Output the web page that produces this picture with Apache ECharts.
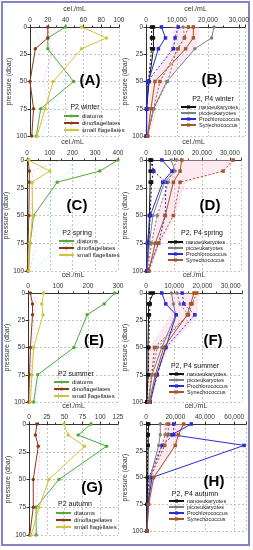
<!DOCTYPE html>
<html><head><meta charset="utf-8">
<script src="https://cdn.jsdelivr.net/npm/echarts@6/dist/echarts.min.js"></script>
<style>html,body{margin:0;padding:0;background:#fff}#c{width:253px;height:550px}</style>
</head><body><div id="c"></div>
<script>
const depths = [0, 10, 20, 50, 75, 100];
const yTicks = [0, 25, 50, 75, 100];

// Panel A (P2 winter)
const A_diatoms = [40, 20, 20, 49, 12, 7];
const A_dino = [20, 20, 6, 0, 4, 2];
const A_small = [58, 86, 58, 26, 17, 8];
const A_faintCyan = [30, 24, 22, 40, 26, 12];
const A_faintPink = [4, 10, 26, 15, 22, 6];
// Panel C (P2 spring)
const C_diatoms = [400, 320, 133, 29, 14, 7];
const C_dino = [5, 10, 10, 8, 5, 3];
const C_small = [7, 100, 22, 25, 12, 7];
const C_faintCyan = [200, 190, 120, 90, 170, 20];
const C_faintPink = [150, 20, 30, 15, 40, 10];
// Panel E (P2 summer)
const E_diatoms = [289, 254, 197, 153, 32, 19];
const E_dino = [8, 15, 15, 8, 5, 2];
const E_small = [52, 46, 50, 19, 13, 8];
const E_faintCyan = [280, 250, 200, 165, 40, 22];
const E_faintPink = [20, 25, 20, 15, 10, 5];
// Panel G (P2 autumn)
const G_diatoms = [87, 69, 109, 42, 10, 10];
const G_dino = [11, 9, 13, 6, 6, 1];
const G_small = [49, 55, 78, 28, 14, 3];
const G_faintCyan = [90, 75, 112, 48, 14, 12];
const G_faintPink = [16, 14, 16, 12, 10, 6];

// Panel B (P2, P4 winter)
const B_nano = [2400, 2400, 2400, 1000, 200, 200];
const B_nano4 = [1800, 1800, 1800, 800, 200, 100];
const B_pico = [22000, 21200, 15800, 6700, 2400, 500];
const B_pico4 = [12000, 12500, 10000, 7000, 2500, 500];
const B_pro = [5000, 6300, 4000, 750, 200, 200];
const B_pro4 = [10400, 9400, 8800, 500, 200, 100];
const B_syn = [15300, 15300, 12800, 2900, 1600, 500];
const B_syn4 = [13700, 12400, 10400, 4500, 2400, 500];
const B_bandLo = [9000, 9000, 8000, 2000, 800, 200];
const B_bandHi = [17000, 17000, 15500, 6000, 3500, 900];
// Panel D (P2, P4 spring)
const D_nano = [1500, 1500, 1500, 1200, 1000, 300];
const D_nano4 = [2000, 2700, 2000, 1500, 1000, 300];
const D_pico = [9000, 10400, 6600, 2500, 1200, 300];
const D_pico4 = [11000, 9500, 8000, 4000, 2000, 500];
const D_pro = [5700, 9300, 6000, 1500, 500, 200];
const D_pro4 = [1500, 2700, 7100, 6900, 4500, 500];
const D_syn = [12800, 12200, 9800, 6900, 3300, 1000];
const D_syn4 = [31200, 27600, 12200, 9800, 4500, 1000];
const D_bandLo = [10000, 10000, 8000, 4000, 1500, 300];
const D_bandHi = [32000, 28000, 14000, 10500, 5000, 1200];
// Panel F (P2, P4 summer)
const F_nano = [2600, 900, 900, 700, 700, 300];
const F_nano4 = [1500, 1500, 1200, 1000, 800, 300];
const F_pico = [9000, 9700, 10500, 5600, 2100, 900];
const F_pico4 = [11000, 12000, 15000, 4000, 2000, 800];
const F_pro = [5600, 7000, 10700, 7000, 3800, 1500];
const F_pro4 = [12800, 13400, 17300, 7000, 4000, 1500];
const F_syn = [17000, 15800, 14600, 6300, 3300, 1200];
const F_syn4 = [18000, 16300, 15000, 3000, 2000, 1000];
const F_bandLo = [9000, 8000, 9000, 1500, 800, 200];
const F_bandHi = [19000, 18000, 18500, 8000, 4000, 1500];
// Panel H (P2, P4 autumn)
const H_nano = [1800, 1500, 1500, 1200, 800, 500];
const H_nano4 = [1200, 1200, 1200, 1000, 800, 500];
const H_pico = [9700, 9700, 8600, 2900, 1500, 600];
const H_pico4 = [14000, 13000, 11000, 3000, 1500, 600];
const H_pro = [30800, 17600, 66700, 4100, 1400, 700];
const H_pro4 = [18800, 18800, 10900, 2000, 1000, 500];
const H_syn = [25600, 22000, 19900, 5200, 1800, 700];
const H_syn4 = [15400, 15000, 12700, 3000, 1200, 500];
const H_bandLo = [12000, 12000, 10000, 2000, 800, 200];
const H_bandHi = [27000, 24000, 21000, 6000, 2500, 900];

const leftNames = ['diatoms', 'dinoflagellates', 'small flagellates'];
const rightNames = ['nanoeukaryotes', 'picoeukaryotes', 'Prochlorococcus', 'Synechococcus'];

const COL = {
  diatoms: '#5aa83c', dinoflagellates: '#8a3a17', 'small flagellates': '#d2c43a',
  nanoeukaryotes: '#111111', picoeukaryotes: '#7f7f7f', Prochlorococcus: '#2a2ad6', Synechococcus: '#a4582a'
};
const SYM = {
  diatoms: 'circle', dinoflagellates: 'circle', 'small flagellates': 'circle',
  nanoeukaryotes: 'rect', picoeukaryotes: 'circle', Prochlorococcus: 'rect', Synechococcus: 'rect'
};

const panels = [
  {id: 'A', side: 'L', left: 30, top: 27, width: 89, height: 109, max: 100, interval: 20, title: 'P2 winter',
   series: [A_diatoms, A_dino, A_small], faint: [A_faintCyan, A_faintPink],
   letter: [90, 81], leg: {x: 63, y: 113, tx: 85, ty: 108}},
  {id: 'C', side: 'L', left: 27, top: 160, width: 91, height: 111, max: 400, interval: 100, title: 'P2 spring',
   series: [C_diatoms, C_dino, C_small], faint: [C_faintCyan, C_faintPink],
   letter: [77, 206], leg: {x: 58, y: 238, tx: 77, ty: 234}},
  {id: 'E', side: 'L', left: 28, top: 293, width: 90, height: 109, max: 300, interval: 100, title: 'P2 summer',
   series: [E_diatoms, E_dino, E_small], faint: [E_faintCyan, E_faintPink],
   letter: [94, 341], leg: {x: 53, y: 379, tx: 76, ty: 375}},
  {id: 'G', side: 'L', left: 29, top: 424, width: 89, height: 111, max: 125, interval: 25, title: 'P2 autumn',
   series: [G_diatoms, G_dino, G_small], faint: [G_faintCyan, G_faintPink],
   letter: [92, 488], leg: {x: 55, y: 510, tx: 75, ty: 505}},
  {id: 'B', side: 'R', left: 146, top: 27, width: 99, height: 109, max: 32000, interval: 10000, title: 'P2, P4 winter',
   series: [B_nano, B_pico, B_pro, B_syn], dashed: [B_nano4, B_pico4, B_pro4, B_syn4], band: [B_bandLo, B_bandHi],
   letter: [212, 80], leg: {x: 180, y: 104, tx: 213, ty: 100}},
  {id: 'D', side: 'R', left: 146, top: 160, width: 95, height: 111, max: 34000, interval: 10000, title: 'P2, P4 spring',
   series: [D_nano, D_pico, D_pro, D_syn], dashed: [D_nano4, D_pico4, D_pro4, D_syn4], band: [D_bandLo, D_bandHi],
   letter: [210, 206], leg: {x: 167, y: 239, tx: 202, ty: 234}},
  {id: 'F', side: 'R', left: 146, top: 293, width: 96, height: 109, max: 34000, interval: 10000, title: 'P2, P4 summer',
   series: [F_nano, F_pico, F_pro, F_syn], dashed: [F_nano4, F_pico4, F_pro4, F_syn4], band: [F_bandLo, F_bandHi],
   letter: [213, 341], leg: {x: 168, y: 371, tx: 195, ty: 367}},
  {id: 'H', side: 'R', left: 146, top: 424, width: 100, height: 107, max: 68000, interval: 20000, title: 'P2, P4 autumn',
   series: [H_nano, H_pico, H_pro, H_syn], dashed: [H_nano4, H_pico4, H_pro4, H_syn4], band: [H_bandLo, H_bandHi],
   letter: [214, 482], leg: {x: 168, y: 498, tx: 195, ty: 495}}
];

const pts = arr => arr.map((v, i) => [v, depths[i]]);
const grid = [], xAxis = [], yAxis = [], series = [], legend = [], title = [];
const FONT = 'Liberation Sans';

panels.forEach((p, k) => {
  grid.push({left: p.left, top: p.top, width: p.width, height: p.height, containLabel: false});
  xAxis.push({
    type: 'value', gridIndex: k, position: 'top', min: 0, max: p.max, interval: p.interval,
    name: 'cel./mL', nameLocation: 'middle', nameGap: 14,
    nameTextStyle: {fontSize: 7, color: '#333', fontFamily: FONT},
    axisLine: {show: true, lineStyle: {color: '#333', width: 1}},
    axisTick: {show: true, length: 2.5, lineStyle: {color: '#333'}},
    minorTick: {show: true, splitNumber: 2, length: 1.5, lineStyle: {color: '#333'}},
    axisLabel: {fontSize: 6.5, color: '#333', margin: 3, fontFamily: FONT,
      formatter: v => (v % p.interval === 0 ? v.toLocaleString('en-US') : '')},
    splitLine: {show: true, lineStyle: {color: '#b5b5b5', type: [2, 2], width: 0.8}}
  });
  yAxis.push({
    type: 'value', gridIndex: k, inverse: true, min: 0, max: 100, interval: 25,
    name: 'pressure (dbar)', nameLocation: 'middle', nameGap: p.side === 'L' ? 15 : 10,
    nameTextStyle: {fontSize: 7, color: '#333', fontFamily: FONT},
    axisLine: {show: true, onZero: false, lineStyle: {color: '#333', width: 1}},
    axisTick: {show: true, length: 2.5, lineStyle: {color: '#333'}},
    axisLabel: {fontSize: 6.5, color: '#333', margin: 3, fontFamily: FONT},
    splitLine: {show: true, lineStyle: {color: '#b5b5b5', type: [2, 2], width: 0.8}}
  });
  if (p.band) {
    const lo = p.band[0], hi = p.band[1];
    series.push({
      type: 'custom', xAxisIndex: k, yAxisIndex: k, silent: true, z: 1, data: [0],
      renderItem: (params, api) => {
        const poly = [];
        lo.forEach((v, i) => poly.push(api.coord([v, depths[i]])));
        for (let i = hi.length - 1; i >= 0; i--) poly.push(api.coord([hi[i], depths[i]]));
        return {type: 'polygon', shape: {points: poly}, style: {fill: 'rgba(250,200,220,0.4)', stroke: 'rgba(245,150,190,0.45)', lineWidth: 0.6, lineDash: [2, 2]}};
      }
    });
  }
  if (p.faint) {
    const fc = ['rgba(90,230,230,0.55)', 'rgba(245,120,200,0.55)'];
    p.faint.forEach((arr, j) => series.push({
      type: 'line', name: 'faint' + j, xAxisIndex: k, yAxisIndex: k, data: pts(arr), silent: true, z: 1,
      symbol: 'none', lineStyle: {color: fc[j], width: 0.8, type: [2, 2]}
    }));
  }
  const names = p.side === 'L' ? leftNames : rightNames;
  if (p.dashed) {
    p.dashed.forEach((arr, j) => series.push({
      type: 'line', name: names[j] + ' P4', xAxisIndex: k, yAxisIndex: k, data: pts(arr), z: 2,
      symbol: SYM[names[j]], symbolSize: 3.5, showAllSymbol: true,
      itemStyle: {color: COL[names[j]]}, lineStyle: {color: COL[names[j]], width: 1, type: [2, 2]}
    }));
  }
  p.series.forEach((arr, j) => series.push({
    type: 'line', name: names[j], xAxisIndex: k, yAxisIndex: k, data: pts(arr), z: 3,
    symbol: SYM[names[j]], symbolSize: 3.5, showAllSymbol: true,
    itemStyle: {color: COL[names[j]]}, lineStyle: {color: COL[names[j]], width: 1}
  }));
  legend.push({
    orient: 'vertical', left: p.leg.x, top: p.leg.y, itemWidth: 15, itemHeight: 4, itemGap: p.side === 'L' ? 1 : 0,
    padding: 0, data: names, selectedMode: false,
    textStyle: {fontSize: p.side === 'L' ? 6 : 5.5, color: '#222', fontFamily: FONT, padding: [0, 0, 0, -2]}
  });
  title.push({text: p.title, left: p.leg.tx, top: p.leg.ty - 4, textAlign: 'center', padding: 0,
    textStyle: {fontSize: 7, fontWeight: 'normal', color: '#111', fontFamily: FONT}});
  title.push({text: '(' + p.id + ')', left: p.letter[0], top: p.letter[1] - 8, textAlign: 'center', padding: 0,
    textStyle: {fontSize: 15, fontWeight: 'bold', color: '#000', fontFamily: FONT}});
});

const chart = echarts.init(document.getElementById('c'), null, {renderer: 'canvas'});
chart.setOption({
  animation: false,
  backgroundColor: '#fff',
  grid, xAxis, yAxis, series, legend, title,
  graphic: [{type: 'rect', shape: {x: 2, y: 2, width: 247, height: 543}, style: {fill: 'none', stroke: '#8585c4', lineWidth: 2}, silent: true}]
});
</script></body></html>
